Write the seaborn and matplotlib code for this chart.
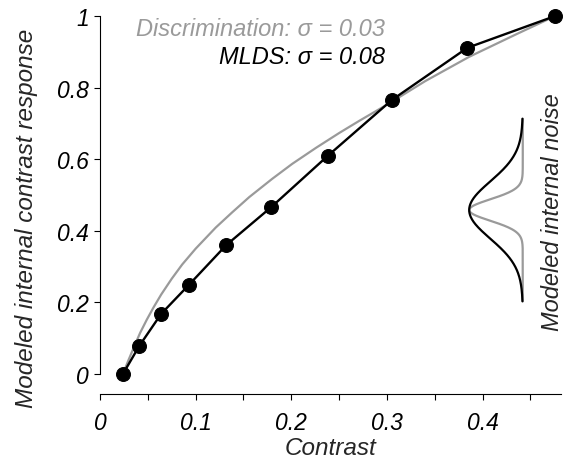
import numpy as np
import pandas as pd
import seaborn as sns
import matplotlib.pyplot as plt
from matplotlib.ticker import MultipleLocator, FormatStrFormatter

# MLDS estimates (contrast vs. modeled internal response)
mlds_contrast = [0.024, 0.041, 0.064, 0.093, 0.132, 0.179, 0.238, 0.305, 0.384, 0.476]
mlds_response = [0.0, 0.078, 0.168, 0.249, 0.360, 0.466, 0.609, 0.765, 0.911, 1.0]

# discrimination-based curve
disc_contrast = [0.024, 0.030, 0.036, 0.042, 0.049, 0.056, 0.064, 0.075, 0.086, 0.100,
                 0.121, 0.138, 0.156, 0.180, 0.201, 0.226, 0.250, 0.271, 0.303,
                 0.340, 0.386, 0.436, 0.476]
disc_response = [0.0, 0.040, 0.078, 0.115, 0.152, 0.186, 0.222, 0.266, 0.306, 0.350,
                 0.409, 0.451, 0.494, 0.545, 0.587, 0.632, 0.673, 0.707, 0.757,
                 0.818, 0.886, 0.950, 1.0]

# noise levels shown in the legend
noise_sigma = [0.03, 0.08]
noise_labels = ["Discrimination", "MLDS"]
noise_colors = ["#9a9a9a", "black"]

sns.set_theme(style="ticks")
plt.rcParams["font.family"] = ["Liberation Sans", "DejaVu Sans"]
plt.rcParams["font.style"] = "italic"

fig = plt.figure(figsize=(5.69, 4.64), dpi=100)
ax = fig.add_axes([0.1757, 0.1487, 0.8103, 0.8147])

disc = pd.DataFrame({"contrast": disc_contrast, "response": disc_response})
mlds = pd.DataFrame({"contrast": mlds_contrast, "response": mlds_response})

sns.lineplot(data=disc, x="contrast", y="response", color=noise_colors[0],
             linewidth=1.6, ax=ax, clip_on=False)
sns.lineplot(data=mlds, x="contrast", y="response", color="black", linewidth=1.7,
             marker="o", markersize=10, markeredgecolor="black", ax=ax, clip_on=False)

# little gaussians illustrating internal noise
base_x, amp, center = 0.442, 0.056, 0.458
yy = np.linspace(center - 0.255, center + 0.255, 300)
for sig, col in zip(noise_sigma, noise_colors):
    ax.plot(base_x - amp * np.exp(-0.5 * ((yy - center) / sig) ** 2), yy,
            color=col, lw=1.6)

ax.text(0.4735, 0.455, "Modeled internal noise", rotation=90,
        ha="center", va="center", fontsize=17)

for lab, sig, col, ty in zip(noise_labels, noise_sigma, noise_colors, [0.966, 0.888]):
    ax.text(0.298, ty, f"{lab}: σ = {sig:.2f}", color=col, ha="right", va="center",
            fontsize=17)

ax.set_xlim(0, 0.482)
ax.set_ylim(-0.0559, 1.0)
ax.spines["top"].set_visible(False)
ax.spines["right"].set_visible(False)
ax.spines["left"].set_bounds(0, 1)
for s in ["left", "bottom"]:
    ax.spines[s].set_linewidth(0.8)
    ax.spines[s].set_color("black")

ax.xaxis.set_major_locator(MultipleLocator(0.1))
ax.xaxis.set_minor_locator(MultipleLocator(0.05))
ax.xaxis.set_major_formatter(FormatStrFormatter("%g"))
ax.yaxis.set_major_locator(MultipleLocator(0.2))
ax.yaxis.set_major_formatter(FormatStrFormatter("%g"))
ax.tick_params(which="both", direction="out", length=4, width=0.8, color="black",
               labelsize=16.5, labelcolor="black")
ax.tick_params(axis="x", pad=8)
ax.tick_params(axis="y", pad=4)

ax.set_xlabel("Contrast", fontsize=17.5, labelpad=2)
ax.set_ylabel("Modeled internal contrast response", fontsize=17.5)
ax.yaxis.set_label_coords(-0.135, 0.468)

fig.savefig("out.png", dpi=100)
